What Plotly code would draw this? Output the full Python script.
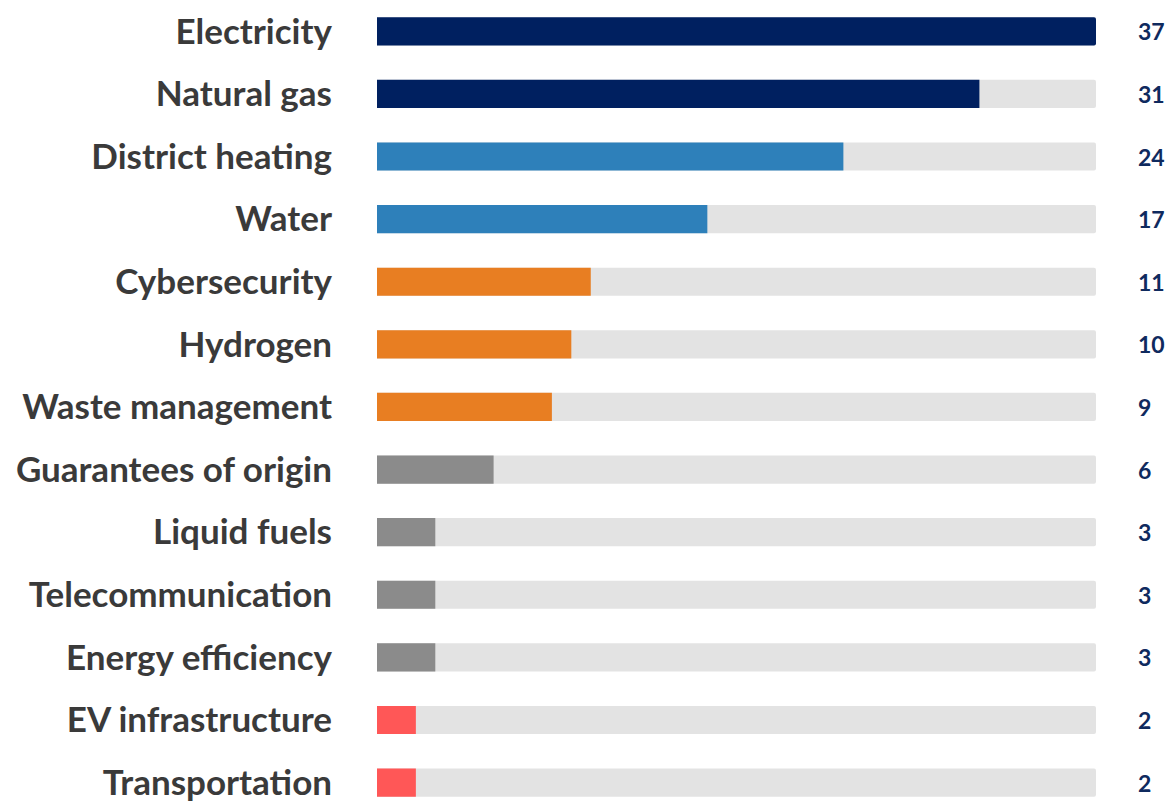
import plotly.graph_objects as go

categories = ["Electricity", "Natural gas", "District heating", "Water", "Cybersecurity",
              "Hydrogen", "Waste management", "Guarantees of origin", "Liquid fuels",
              "Telecommunication", "Energy efficiency", "EV infrastructure", "Transportation"]
values = [37, 31, 24, 17, 11, 10, 9, 6, 3, 3, 3, 2, 2]
bar_colors = ["#002060", "#002060", "#2E80BA", "#2E80BA", "#E87E22", "#E87E22", "#E87E22",
              "#8B8B8B", "#8B8B8B", "#8B8B8B", "#8B8B8B", "#FF5757", "#FF5757"]
track_max = 37

LABEL_FONT = "Lato, 'Open Sans', sans-serif"

fig = go.Figure()

# grey track behind each bar
fig.add_trace(go.Bar(y=categories, x=[track_max] * len(categories), orientation="h",
                     marker={"color": "#E3E3E3", "line": {"width": 0}},
                     width=0.45, hoverinfo="skip", showlegend=False))
fig.add_trace(go.Bar(y=categories, x=values, orientation="h",
                     marker={"color": bar_colors, "line": {"width": 0}},
                     width=0.45, showlegend=False))

for cat, v in zip(categories, values):
    fig.add_annotation(x=1, xref="paper", y=cat, yref="y", text=f"<b>{v}</b>",
                       showarrow=False, xanchor="left", xshift=40,
                       font={"family": LABEL_FONT, "size": 23, "color": "#0F2A5E"})

fig.update_layout(
    width=1169, height=802,
    margin={"l": 377, "r": 73, "t": 0, "b": 0},
    barmode="overlay", barcornerradius=2,
    plot_bgcolor="white", paper_bgcolor="white",
    xaxis={"range": [0, track_max], "visible": False, "fixedrange": True},
    yaxis={"categoryorder": "array", "categoryarray": categories,
           "range": [12.23, -0.5], "showgrid": False, "zeroline": False,
           "showline": False, "ticks": "", "ticklabelstandoff": 44,
           "tickfont": {"family": LABEL_FONT, "size": 35, "color": "#3A3A3A",
                        "weight": "bold"}},
)

# drop the browser's default body margin so the figure sits at the page corner
fig.write_html("out.html", config={"displayModeBar": False},
               post_script="document.body.style.margin='0';")
